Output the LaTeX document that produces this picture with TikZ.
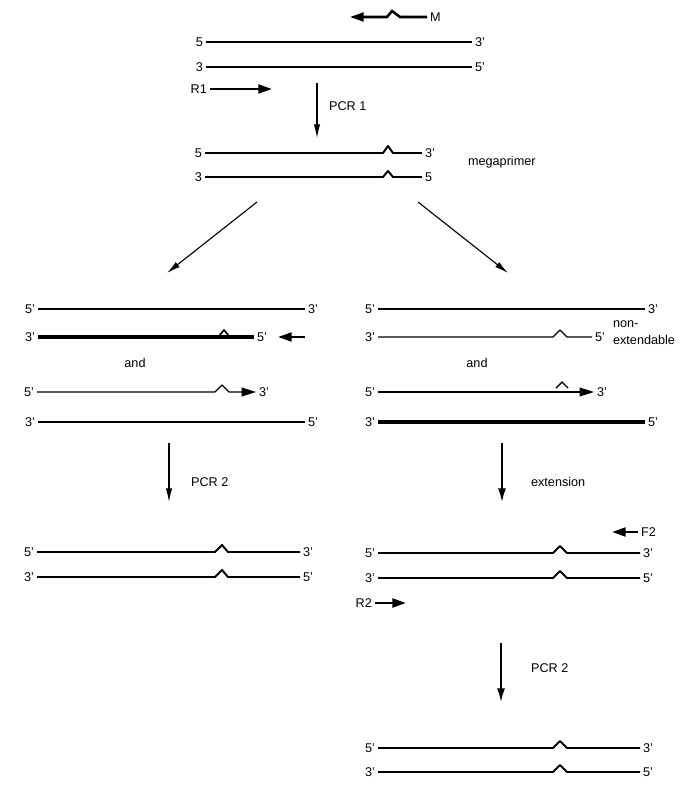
\documentclass[tikz,border=0pt]{standalone}
\usepackage{fontspec}
\setmainfont{Liberation Sans}
\usetikzlibrary{arrows.meta}

\begin{document}
\begin{tikzpicture}[x=0.025cm,y=-0.025cm,
    lab/.style={inner sep=2pt,font=\fontsize{9}{12}\selectfont},
    strand/.style={line width=1.4pt,line join=round},
    thinstrand/.style={line width=0.8pt,line join=round},
    thickstrand/.style={line width=2.5pt,line join=round},
    flow/.style={line width=0.8pt,-{Latex[length=3.4mm,width=1.6mm]}},
    bigflow/.style={line width=1.3pt,-{Latex[length=3.4mm,width=2mm]}},
    primer/.style={line width=1.8pt,-{Triangle[length=3.4mm,width=2.2mm]}},
    tip/.style={-{Triangle[length=3.6mm,width=2.2mm]}}]
      \useasboundingbox (0,0) rectangle (684,785);
      % template and primers
      \node[lab,right] (m) at (427,17) {M};
      \draw[primer] (m.west) -- (400,17) -- (392,11) -- (387,17) -- (350,17);
      \node[lab,left] (a5) at (206,42) {5};
      \node[lab,right] (a3) at (472,42) {3'};
      \draw[strand] (a5) -- (a3);
      \node[lab,left] (b3) at (206,67) {3};
      \node[lab,right] (b5) at (472,67) {5'};
      \draw[strand] (b3) -- (b5);
      \node[lab,left] (r1) at (210,89) {R1};
      \draw[primer] (r1) -- (272,89);
      \coordinate (p1a) at (317,83);
      \coordinate (p1b) at (317,138);
      \draw[flow] (p1a) -- (p1b);
      \node[lab,right] (pcr1) at (326,106) {PCR 1};
      % megaprimer
      \node[lab,left] (c5) at (205,153) {5};
      \node[lab,right] (c3) at (422,153) {3'};
      \draw[strand] (c5) -- (383,153) -- (388,146) -- (393,153) -- (c3);
      \node[lab,left] (d3) at (205,177) {3};
      \node[lab,right] (d5) at (422,177) {5};
      \draw[strand] (d3) -- (383,177) -- (388,171) -- (393,177) -- (d5);
      \node[lab,right] (mega) at (465,162) {megaprimer};
      \coordinate (sl) at (257,202);
      \coordinate (el) at (167,273);
      \coordinate (sr) at (418,202);
      \coordinate (er) at (508,273);
      \draw[flow] (sl) -- (el);
      \draw[flow] (sr) -- (er);
      % left branch
      \node[lab,left] (e5) at (38,309) {5'};
      \node[lab,right] (e3) at (305,309) {3'};
      \draw[thinstrand] (e5) -- (e3);
      \node[lab,left] (f3) at (38,337) {3'};
      \node[lab,right] (f5) at (254,337) {5'};
      \draw[thickstrand] (f3) -- (f5);
      \draw[line width=1.2pt] (218,337) -- (224,330) -- (230,337);
      \coordinate (fp) at (305,337);
      \draw[primer] (fp) -- (278,337);
      \node[lab] (and1) at (135,363) {and};
      \node[lab,left] (g5) at (37,392) {5'};
      \node[lab,right] (g3) at (256,392) {3'};
      \draw[thinstrand,tip] (g5) -- (215,392) -- (222,385) -- (229,392) -- (g3);
      \node[lab,left] (h3) at (38,422) {3'};
      \node[lab,right] (h5) at (305,422) {5'};
      \draw[thinstrand] (h3) -- (h5);
      \coordinate (p2a) at (169,443);
      \coordinate (p2b) at (169,502);
      \draw[flow] (p2a) -- (p2b);
      \node[lab,right] (pcr2l) at (188,482) {PCR 2};
      \node[lab,left] (i5) at (37,552) {5'};
      \node[lab,right] (i3) at (300,552) {3'};
      \draw[strand] (i5) -- (215,552) -- (222,545) -- (228,552) -- (i3);
      \node[lab,left] (j3) at (37,577) {3'};
      \node[lab,right] (j5) at (300,577) {5'};
      \draw[strand] (j3) -- (215,577) -- (222,570) -- (228,577) -- (j5);
      % right branch
      \node[lab,left] (k5) at (378,309) {5'};
      \node[lab,right] (k3) at (645,309) {3'};
      \draw[thinstrand] (k5) -- (k3);
      \node[lab,left] (l3) at (378,337) {3'};
      \node[lab,right] (l5) at (592,337) {5'};
      \draw[thinstrand] (l3) -- (553,337) -- (560,330) -- (567,337) -- (l5);
      \node[lab,right,align=left] (nonext) at (610,333) {non-\\extendable};
      \node[lab] (and2) at (477,363) {and};
      \node[lab,left] (n5) at (378,392) {5'};
      \node[lab,right] (n3) at (594,392) {3'};
      \draw[thinstrand,tip] (n5) -- (n3);
      \draw[line width=1pt] (556,388) -- (562,382) -- (568,388);
      \node[lab,left] (o3) at (378,422) {3'};
      \node[lab,right] (o5) at (645,422) {5'};
      \draw[thickstrand] (o3) -- (o5);
      \coordinate (exa) at (502,443);
      \coordinate (exb) at (502,502);
      \draw[bigflow] (exa) -- (exb);
      \node[lab,right] (ext) at (528,482) {extension};
      \node[lab,right] (f2) at (638,532) {F2};
      \draw[primer] (f2) -- (612,532);
      \node[lab,left] (q5) at (378,553) {5'};
      \node[lab,right] (q3) at (640,553) {3'};
      \draw[strand] (q5) -- (553,553) -- (560,546) -- (567,553) -- (q3);
      \node[lab,left] (s3) at (378,578) {3'};
      \node[lab,right] (s5) at (640,578) {5'};
      \draw[strand] (s3) -- (553,578) -- (560,571) -- (567,578) -- (s5);
      \node[lab,left] (r2) at (375,603) {R2};
      \draw[primer] (r2) -- (406,603);
      \coordinate (p3a) at (501,643);
      \coordinate (p3b) at (501,702);
      \draw[bigflow] (p3a) -- (p3b);
      \node[lab,right] (pcr2r) at (528,668) {PCR 2};
      \node[lab,left] (t5) at (378,748) {5'};
      \node[lab,right] (t3) at (640,748) {3'};
      \draw[strand] (t5) -- (553,748) -- (560,741) -- (567,748) -- (t3);
      \node[lab,left] (u3) at (378,772) {3'};
      \node[lab,right] (u5) at (640,772) {5'};
      \draw[strand] (u3) -- (553,772) -- (560,765) -- (567,772) -- (u5);
    \end{tikzpicture}
\end{document}
